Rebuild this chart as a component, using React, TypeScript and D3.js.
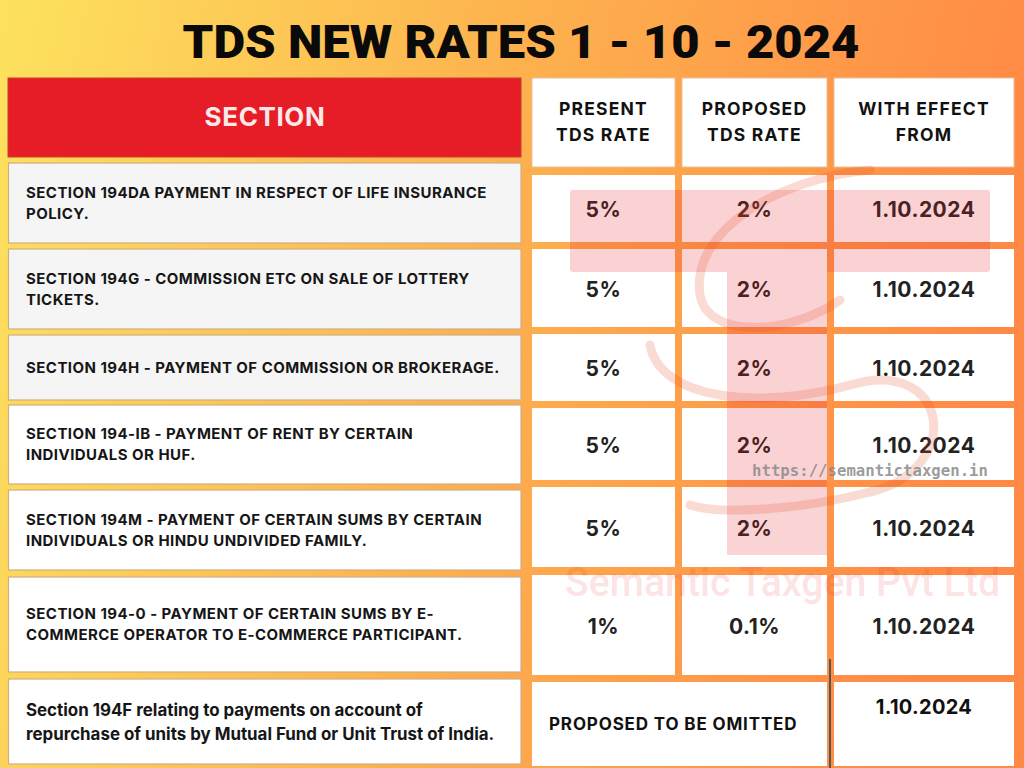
import React from "react";
import * as d3 from "d3";

const title = "TDS NEW RATES 1 - 10 - 2024";
const sectionHeader = "SECTION";
const columnHeaders = [["PRESENT", "TDS RATE"], ["PROPOSED", "TDS RATE"], ["WITH EFFECT", "FROM"]];
const sectionLines = [
  ["SECTION 194DA PAYMENT IN RESPECT OF LIFE INSURANCE", "POLICY."],
  ["SECTION 194G - COMMISSION ETC ON SALE OF LOTTERY", "TICKETS."],
  ["SECTION 194H - PAYMENT OF COMMISSION OR BROKERAGE."],
  ["SECTION 194-IB - PAYMENT OF RENT BY CERTAIN", "INDIVIDUALS OR HUF."],
  ["SECTION 194M - PAYMENT OF CERTAIN SUMS BY CERTAIN", "INDIVIDUALS OR HINDU UNDIVIDED FAMILY."],
  ["SECTION 194-0 - PAYMENT OF CERTAIN SUMS BY E-", "COMMERCE OPERATOR TO E-COMMERCE PARTICIPANT."],
  ["Section 194F relating to payments on account of", "repurchase of units by Mutual Fund or Unit Trust of India."],
];
const presentRates = ["5%", "5%", "5%", "5%", "5%", "1%"];
const proposedRates = ["2%", "2%", "2%", "2%", "2%", "0.1%"];
const effectiveFrom = ["1.10.2024", "1.10.2024", "1.10.2024", "1.10.2024", "1.10.2024", "1.10.2024", "1.10.2024"];
const omittedNote = "PROPOSED TO BE OMITTED";
const watermarkName = "Semantic Taxgen Pvt Ltd";
const watermarkUrl = "https://semantictaxgen.in";

// layout
const W = 1024, H = 768;
const leftRows: [number, number][] = [[163, 243], [249, 329], [335, 400], [405, 484], [490, 570], [577, 672], [679, 764]];
const rightRows: [number, number][] = [[175, 242], [249, 327], [334, 401], [408, 480], [487, 567], [575, 675], [682, 766]];
const colX: [number, number][] = [[532, 675], [682, 827], [834, 1014]];
const FONT = "Inter, 'Open Sans', sans-serif";

export default function App() {
  const grad = d3.scaleLinear<string>().domain([0, 0.5, 1]).range(["#fde25e", "#fdb24e", "#ff8a45"]);
  const stops = d3.range(0, 1.0001, 0.25);
  return (
    <svg width={W} height={H} style={{ position: "absolute", left: 0, top: 0, display: "block" }} xmlns="http://www.w3.org/2000/svg">
      <defs>
        <linearGradient id="bg" x1="0" y1="0" x2="1" y2="0.15">
          {stops.map((s) => (
            <stop key={s} offset={s} stopColor={grad(s)} />
          ))}
        </linearGradient>
      </defs>
      <rect x={0} y={0} width={W} height={H} fill="url(#bg)" />

      <text x={521} y={58} textAnchor="middle" fontFamily="Roboto, sans-serif" fontWeight={900} fontSize={47}
        textLength={677} lengthAdjust="spacingAndGlyphs" fill="#0a0a0a">{title}</text>

      {/* Section header */}
      <rect x={8} y={78} width={513} height={79} fill="#e61d26" stroke="#c9402a" strokeWidth={1} />
      <text x={265} y={126} textAnchor="middle" fontFamily={FONT} fontWeight={700} fontSize={26} fill="#fbe9e9" letterSpacing={0.6}>{sectionHeader}</text>

      {/* Left rows */}
      {sectionLines.map((lines, i) => {
        const [y0, y1] = leftRows[i];
        const last = i === sectionLines.length - 1;
        const fs = last ? 16.9 : 15;
        const lh = last ? 24 : 21;
        const cy = (y0 + y1) / 2;
        const startY = cy - ((lines.length - 1) * lh) / 2;
        return (
          <g key={i}>
            <rect x={8.5} y={y0} width={512.5} height={y1 - y0} fill={i < 3 ? "#f5f5f5" : "#ffffff"} stroke="#cfae86" strokeWidth={1.2} />
            {lines.map((ln, j) => (
              <text key={j} x={26} y={startY + j * lh} dy="0.36em" fontFamily={FONT} fontWeight={700} fontSize={fs}
                fill="#161616" letterSpacing={last ? 0 : 0.45}>{ln}</text>
            ))}
          </g>
        );
      })}

      {/* Right header cells */}
      {columnHeaders.map((lines, c) => {
        const [x0, x1] = colX[c];
        const cx = (x0 + x1) / 2;
        return (
          <g key={c}>
            <rect x={x0} y={78} width={x1 - x0} height={89} fill="#ffffff" stroke="#e9c29a" strokeWidth={1} />
            {lines.map((ln, j) => (
              <text key={j} x={cx} y={109 + j * 26} dy="0.36em" textAnchor="middle" fontFamily={FONT} fontWeight={700}
                fontSize={17.5} letterSpacing={1.2} fill="#111">{ln}</text>
            ))}
          </g>
        );
      })}

      {/* Right body cells */}
      {presentRates.map((p, i) => {
        const [y0, y1] = rightRows[i];
        const cy = (y0 + y1) / 2 + 1;
        const vals = [p, proposedRates[i], effectiveFrom[i]];
        return (
          <g key={i}>
            {colX.map(([x0, x1], c) => (
              <g key={c}>
                <rect x={x0} y={y0} width={x1 - x0} height={y1 - y0} fill="#ffffff" />
                <text x={(x0 + x1) / 2} y={cy} dy="0.36em" textAnchor="middle" fontFamily={FONT} fontWeight={700}
                  fontSize={21} letterSpacing={0.5} fill="#222">{vals[c]}</text>
              </g>
            ))}
          </g>
        );
      })}
      {(() => {
        const [y0, y1] = rightRows[6];
        return (
          <g>
            <rect x={colX[0][0]} y={y0} width={colX[1][1] - colX[0][0]} height={y1 - y0} fill="#ffffff" />
            <text x={549} y={(y0 + y1) / 2} dy="0.36em" fontFamily={FONT} fontWeight={700} fontSize={17} letterSpacing={0.85} fill="#111">{omittedNote}</text>
            <rect x={colX[2][0]} y={y0} width={colX[2][1] - colX[2][0]} height={y1 - y0} fill="#ffffff" />
            <text x={(colX[2][0] + colX[2][1]) / 2} y={707} dy="0.36em" textAnchor="middle" fontFamily={FONT} fontWeight={700}
              fontSize={20} letterSpacing={0.3} fill="#111">{effectiveFrom[6]}</text>
          </g>
        );
      })()}

      {/* Watermark */}
      <g opacity={0.2} fill="#e8222b">
        <rect x={570} y={190} width={420} height={82} rx={3} />
        <rect x={727} y={245} width={100} height={310} />
      </g>
      <g fill="none" stroke="#e84a2a" strokeOpacity={0.2} strokeWidth={9} strokeLinecap="round">
        <path d="M 870 170 C 780 178, 690 230, 700 295 C 708 340, 790 335, 840 300" />
        <path d="M 650 345 C 660 400, 760 410, 850 385 C 950 355, 965 470, 870 492 C 800 510, 720 515, 690 505" />
      </g>
      <text x={565} y={596} fontFamily="Roboto, sans-serif" fontWeight={500} fontSize={40} textLength={435}
        lengthAdjust="spacingAndGlyphs" fill="#e8222b" fillOpacity={0.15}>{watermarkName}</text>
      <text x={752} y={476} fontFamily="'DejaVu Sans Mono', monospace" fontWeight={700} fontSize={16}
        textLength={236} lengthAdjust="spacingAndGlyphs" fill="#8a8a8a" fillOpacity={0.85}>{watermarkUrl}</text>

      <line x1={830} x2={830} y1={659} y2={768} stroke="#555" strokeWidth={2} />
    </svg>
  );
}
